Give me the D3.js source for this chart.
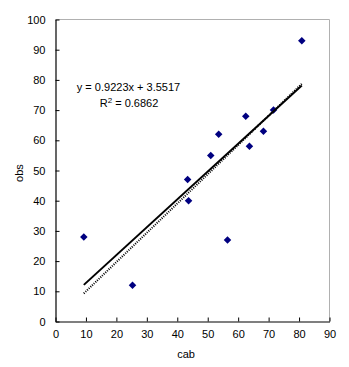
<!DOCTYPE html>
<html><head><meta charset="utf-8">
<script src="https://cdn.jsdelivr.net/npm/d3@7"></script>
<style>body{margin:0;background:#fff;} text{font-family:"Liberation Sans",Arial,sans-serif;}</style>
</head><body><svg id="c" width="349" height="367"></svg>
<script>
const cab = [9.3, 25.3, 43.4, 43.7, 51.0, 53.6, 56.5, 62.5, 63.7, 68.3, 71.6, 80.9];
const obs = [28, 12, 47, 40, 55, 62, 27, 68, 58, 63, 70, 93];
const xTicks = [0,10,20,30,40,50,60,70,80,90];
const yTicks = [0,10,20,30,40,50,60,70,80,90,100];
const slope = 0.9223, intercept = 3.5517;
const eqText = "y = 0.9223x + 3.5517";
const r2Text = "0.6862";
const dottedX = [9.3, 81.0];
const dottedY = [9.3, 78.8];

const svg = d3.select("#c");
const L=55.5, R=329.5, T=19.5, B=321.5;
const x = d3.scaleLinear().domain([0,90]).range([L,R]);
const y = d3.scaleLinear().domain([0,100]).range([B,T]);

svg.append("path").attr("d",`M${L},${T}H${R}V${B}`).attr("fill","none").attr("stroke","#b0b0b0").attr("stroke-width",1);

const xa = svg.append("g").attr("transform",`translate(0,${B})`)
  .call(d3.axisBottom(x).tickValues(xTicks).tickSize(-4).tickPadding(9).tickSizeOuter(0));
const ya = svg.append("g").attr("transform",`translate(${L},0)`)
  .call(d3.axisLeft(y).tickValues(yTicks).tickSize(-4).tickPadding(10).tickSizeOuter(0));
[xa,ya].forEach(a=>{
  a.select(".domain").attr("stroke","#000").attr("stroke-width",1.2);
  a.selectAll(".tick line").attr("stroke","#000");
  a.selectAll(".tick text").attr("font-size",11).attr("fill","#000").attr("font-family","'Liberation Sans',Arial,sans-serif");
});

svg.append("line")
  .attr("x1",x(dottedX[0])).attr("y1",y(dottedY[0]))
  .attr("x2",x(dottedX[1])).attr("y2",y(dottedY[1]))
  .attr("stroke","#000").attr("stroke-width",2).attr("stroke-dasharray","1,1.3");

svg.append("g").selectAll("path").data(cab).join("path")
  .attr("d", d3.symbol().type(d3.symbolDiamond2).size(36))
  .attr("transform",(d,i)=>`translate(${x(d)},${y(obs[i])})`)
  .attr("fill","#000080");

const xmin = d3.min(cab), xmax = d3.max(cab);
svg.append("line")
  .attr("x1",x(xmin)).attr("y1",y(slope*xmin+intercept))
  .attr("x2",x(xmax)).attr("y2",y(slope*xmax+intercept))
  .attr("stroke","#000").attr("stroke-width",2);

svg.append("text").attr("x",128.5).attr("y",90.5).attr("text-anchor","middle").attr("font-size",11).text(eqText);
const r = svg.append("text").attr("x",129).attr("y",107).attr("text-anchor","middle").attr("font-size",11);
r.append("tspan").text("R");
r.append("tspan").attr("dy",-4).attr("font-size",8).text("2");
r.append("tspan").attr("dy",4).text(" = " + r2Text);

svg.append("text").attr("x",186).attr("y",358).attr("text-anchor","middle").attr("font-size",11).text("cab");
svg.append("text").attr("transform","translate(23,173) rotate(-90)").attr("text-anchor","middle").attr("font-size",11).text("obs");
</script></body></html>
